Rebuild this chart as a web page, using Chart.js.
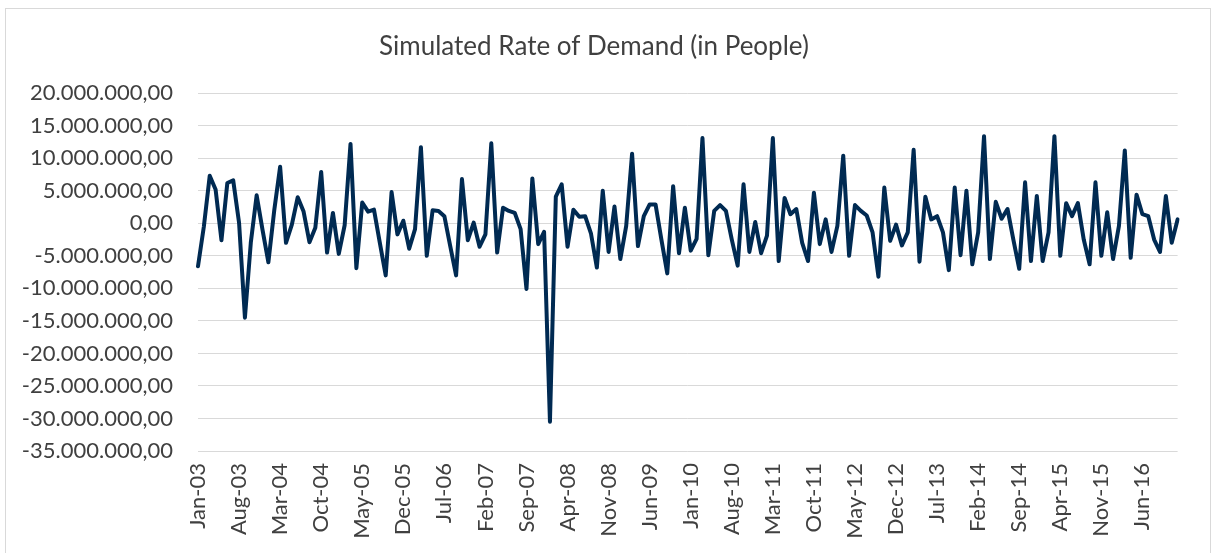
<!DOCTYPE html>
<html>
<head>
<meta charset="utf-8">
<script src="https://cdn.jsdelivr.net/npm/chart.js@4.4.0/dist/chart.umd.min.js"></script>
<style>
  html, body { margin: 0; padding: 0; background: #fff; }
  #wrap { position: relative; width: 1216px; height: 553px; overflow: hidden; }
  #frame { position: absolute; left: 5px; top: 8px; width: 1204px; height: 600px;
           border: 1px solid #d9d9d9; pointer-events: none; }
</style>
</head>
<body>
<div id="wrap">
  <canvas id="line-chart" width="1216" height="553"></canvas>
  <div id="frame"></div>
</div>
<script>
// monthly demand, in millions of people, Jan-03 .. Dec-16
var demand = [
  -6.6, -0.5, 7.3, 5.2, -2.6, 6.2, 6.6, 0.1, -14.5, -3.0, 4.3, -1.0,
  -6.0, 2.0, 8.7, -3.0, -0.2, 4.0, 1.8, -2.9, -0.7, 7.9, -4.5, 1.6,
  -4.7, -0.3, 12.2, -6.9, 3.2, 1.8, 2.1, -3.0, -8.0, 4.8, -1.7, 0.4,
  -3.9, -0.9, 11.7, -5.0, 2.0, 1.9, 1.1, -3.5, -8.0, 6.8, -2.6, 0.1,
  -3.6, -1.7, 12.3, -4.5, 2.4, 1.9, 1.6, -0.9, -10.1, 6.9, -3.2, -1.3,
  -30.5, 4.1, 6.0, -3.6, 2.1, 1.0, 1.1, -1.6, -6.8, 5.0, -4.4, 2.6,
  -5.5, -0.4, 10.7, -3.5, 1.1, 2.9, 2.9, -2.5, -7.7, 5.7, -4.6, 2.4,
  -4.2, -2.4, 13.1, -4.9, 1.9, 2.8, 1.9, -2.5, -6.5, 6.0, -4.4, 0.2,
  -4.6, -1.9, 13.1, -5.8, 3.9, 1.4, 2.2, -3.0, -5.8, 4.7, -3.2, 0.6,
  -4.4, -0.4, 10.4, -5.0, 2.8, 1.9, 1.2, -1.4, -8.2, 5.5, -2.7, -0.2,
  -3.4, -1.4, 11.3, -5.9, 4.1, 0.6, 1.1, -1.4, -7.2, 5.5, -4.9, 5.0,
  -6.3, -1.4, 13.4, -5.5, 3.3, 0.7, 2.2, -2.5, -7.0, 6.3, -5.8, 4.2,
  -5.8, -1.4, 13.4, -5.0, 3.1, 1.1, 3.1, -2.5, -6.3, 6.3, -5.0, 1.7,
  -5.5, -0.4, 11.2, -5.3, 4.4, 1.4, 1.1, -2.5, -4.4, 4.2, -3.0, 0.6
];

var monthNames = ['Jan','Feb','Mar','Apr','May','Jun','Jul','Aug','Sep','Oct','Nov','Dec'];
var months = [];
for (var i = 0; i < demand.length; i++) {
  var yy = 3 + Math.floor(i / 12);
  months.push(monthNames[i % 12] + '-' + (yy < 10 ? '0' + yy : '' + yy));
}
var labelEvery = 7;   // excel shows every 7th month

var yTicks = { min: -35, max: 20, step: 5 };

function fmt(v) {
  var n = Math.round(Math.abs(v) * 1000000);
  var s = String(n).replace(/\B(?=(\d{3})+(?!\d))/g, '.');
  return (v < 0 ? '-' : '') + s + ',00';
}

var txt = '#404040';
var chart = new Chart(document.getElementById('line-chart'), {
  type: 'line',
  data: {
    labels: months,
    datasets: [{
      label: 'Demand',
      data: demand,
      borderColor: '#002a52',
      borderWidth: 4,
      borderJoinStyle: 'round',
      borderCapStyle: 'round',
      pointRadius: 0,
      tension: 0,
      fill: false
    }]
  },
  options: {
    responsive: false,
    animation: false,
    layout: { padding: { left: 0, right: 28, top: 0, bottom: 0 } },
    plugins: {
      legend: { display: false },
      tooltip: { enabled: false },
      title: {
        display: true,
        text: 'Simulated Rate of Demand (in People)',
        color: txt,
        font: { family: 'Lato', size: 26, weight: 'normal' },
        padding: { top: 31, bottom: 31 }
      }
    },
    scales: {
      x: {
        offset: false,
        grid: { display: false, drawTicks: false },
        border: { display: false },
        afterFit: function(scale) { scale.height = 102; },
        ticks: {
          autoSkip: false,
          minRotation: 90,
          maxRotation: 90,
          padding: 12,
          color: txt,
          font: { family: 'Lato', size: 22 },
          callback: function(val, idx) {
            return idx % labelEvery === 0 ? months[idx] : '';
          }
        }
      },
      y: {
        min: yTicks.min,
        max: yTicks.max,
        afterFit: function(scale) { scale.width = 198; },
        grid: { color: '#d9d9d9', lineWidth: 1, drawTicks: false },
        border: { display: false },
        ticks: {
          stepSize: yTicks.step,
          padding: 25,
          color: txt,
          font: { family: 'Lato', size: 22 },
          callback: function(v) { return fmt(v); }
        }
      }
    }
  }
});
</script>
</body>
</html>
